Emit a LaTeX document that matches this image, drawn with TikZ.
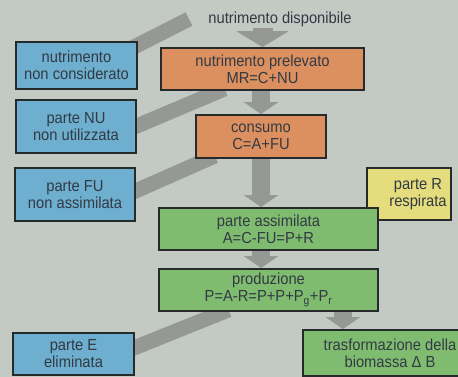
\documentclass[tikz,border=0pt]{standalone}
\usepackage{fontspec}
\setmainfont[FakeStretch=0.92]{Liberation Sans}
\usetikzlibrary{arrows.meta,calc}
\pgfdeclarelayer{back}
\pgfsetlayers{back,main}
\definecolor{bgc}{RGB}{195,202,196}
\definecolor{arrowgray}{RGB}{150,152,150}
\definecolor{bluebox}{RGB}{110,174,206}
\definecolor{orangebox}{RGB}{220,144,96}
\definecolor{greenbox}{RGB}{128,188,112}
\definecolor{yellowbox}{RGB}{228,220,125}
\definecolor{boxline}{RGB}{38,42,42}
\definecolor{txtc}{RGB}{50,58,68}
\tikzset{
  txt/.style={text=txtc, align=center, inner sep=1pt, font=\fontsize{16}{17}\selectfont},
  box/.style={txt, draw=boxline, line width=1.8pt, inner sep=0pt},
  bluenode/.style={box, fill=bluebox},
  orangenode/.style={box, fill=orangebox},
  greennode/.style={box, fill=greenbox},
  yellownode/.style={box, fill=yellowbox},
  bigarrow/.style={draw=arrowgray, line width=18pt, -{Triangle[width=34pt,length=12pt]}},
  toparrow/.style={draw=arrowgray, line width=20pt, -{Triangle[width=52pt,length=16pt]}},
  band/.style={draw=arrowgray, line width=15pt}
}
\begin{document}
\begin{tikzpicture}[x=1pt,y=-1pt]
\useasboundingbox (0,0) rectangle (458,377);
\begin{scope}
\clip (0,0) rectangle (458,377);
% nodes
\node[txt] (disp) at (280,19) {nutrimento disponibile};
\node[bluenode, minimum width=121pt, minimum height=47pt] (ncons) at (76.5,65.5) {nutrimento\\non considerato};
\node[orangenode, minimum width=203pt, minimum height=42pt] (prel) at (262.5,69) {nutrimento prelevato\\MR=C+NU};
\node[bluenode, minimum width=120pt, minimum height=53pt] (nu) at (76,126.5) {parte NU\\non utilizzata};
\node[orangenode, minimum width=130pt, minimum height=43pt] (cons) at (261,136.5) {consumo\\C=A+FU};
\node[bluenode, minimum width=120pt, minimum height=53pt] (fu) at (75,194.5) {parte FU\\non assimilata};
\node[yellownode, minimum width=84pt, minimum height=52pt] (resp) at (409,194) {};
\node[txt] (resptxt) at (418,194) {parte R\\respirata};
\node[greennode, minimum width=219pt, minimum height=42pt] (assim) at (268.5,229) {parte assimilata\\A=C-FU=P+R};
\node[greennode, minimum width=219pt, minimum height=42pt] (prod) at (268.5,290) {produzione\\P=A-R=P+P+P\textsubscript{g}+P\textsubscript{r}};
\node[bluenode, minimum width=121pt, minimum height=42pt] (elim) at (73.5,354) {parte E\\eliminata};
\node[greennode, minimum width=174pt, minimum height=46pt] (tras) at (390,353) {trasformazione della\\biomassa Δ B};
\coordinate (src) at (189,19);
\coordinate (pt) at ($(prod.south east)+(-36,0)$);
% connectors
\begin{pgfonlayer}{back}
\fill[bgc] (0,0) rectangle (458,377);
\draw[band] (src) -- ($(ncons.north east)+(-8,8)$);
\draw[band] ($(prel.south)+(-38,-2)$) -- ($(nu.east)+(-6,2)$);
\draw[band] ($(cons.south)+(-46,-3)$) -- ($(fu.east)+(-6,-1)$);
\draw[band] ($(prod.south)+(-40,-2)$) -- ($(elim.east)+(-6,-4)$);
\draw[toparrow] (disp.south -| prel.north) -- (prel.north);
\draw[bigarrow] (prel.south -| cons.north) -- (cons.north);
\draw[bigarrow] (cons.south) -- (cons.south |- assim.north);
\draw[bigarrow] (assim.south -| cons.south) -- (prod.north -| cons.south);
\draw[bigarrow] (pt) -- (pt |- tras.north);
\end{pgfonlayer}
\end{scope}
\end{tikzpicture}
\end{document}
